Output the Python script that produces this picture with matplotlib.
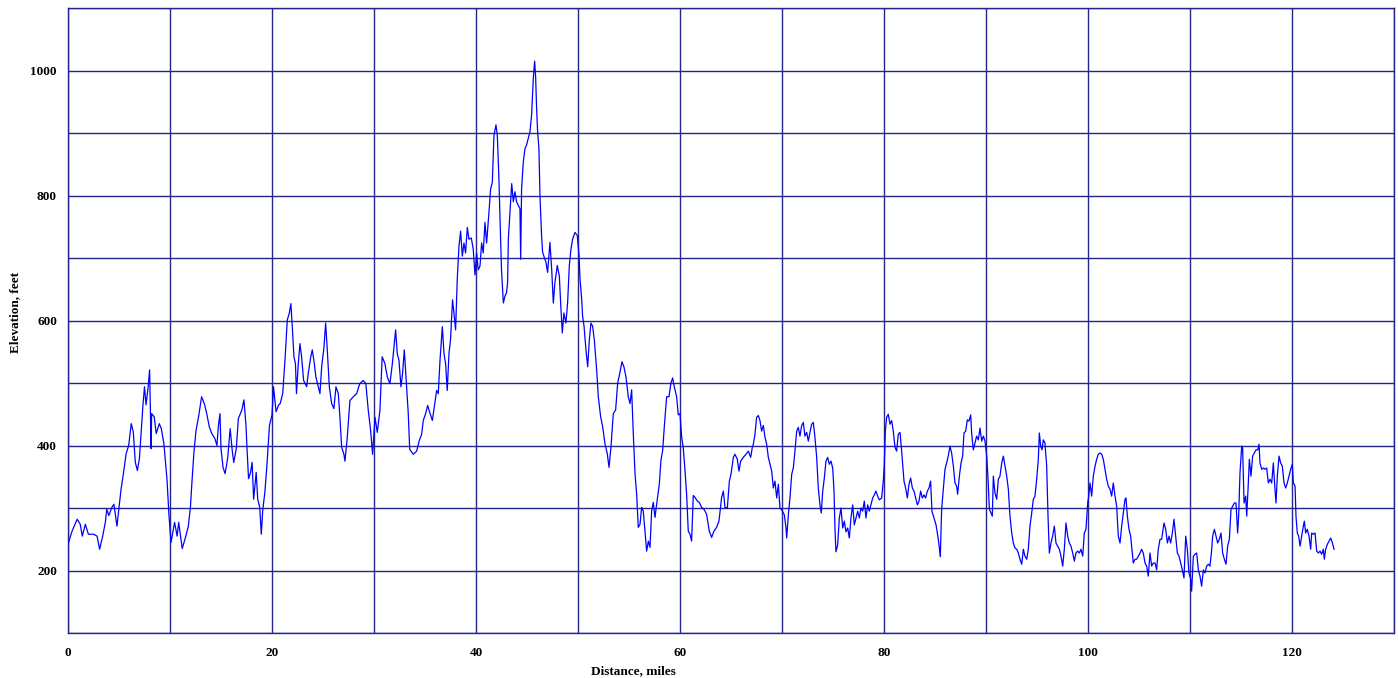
import matplotlib
matplotlib.use("Agg")
import matplotlib.pyplot as plt
from matplotlib.ticker import MultipleLocator

# distance (miles) and elevation (feet), read from the profile
miles = [
    0.0, 0.4, 0.9, 1.2, 1.4, 1.7, 2.0, 2.5, 2.85, 3.1, 3.4, 3.66, 3.8, 4.0, 4.3, 4.5, 4.8, 5.0,
    5.2, 5.45, 5.7, 5.95, 6.2, 6.4, 6.6, 6.8, 7.0, 7.2, 7.35, 7.5, 7.65, 7.85, 8.0, 8.15, 8.2,
    8.45, 8.65, 8.95, 9.15, 9.4, 9.7, 9.9, 10.1, 10.45, 10.7, 10.85, 11.2, 11.55, 11.8, 12.0,
    12.15, 12.35, 12.55, 12.8, 13.1, 13.4, 13.6, 13.85, 14.1, 14.4, 14.6, 14.75, 14.9, 15.0,
    15.2, 15.4, 15.65, 15.9, 16.1, 16.25, 16.5, 16.7, 17.05, 17.25, 17.45, 17.55, 17.7, 17.9,
    18.05, 18.2, 18.45, 18.6, 18.8, 18.95, 19.1, 19.3, 19.5, 19.75, 20.0, 20.15, 20.4, 20.65,
    20.8, 21.05, 21.27, 21.5, 21.7, 21.85, 21.99, 22.15, 22.3, 22.4, 22.58, 22.74, 22.9, 23.1,
    23.4, 23.55, 23.8, 23.95, 24.15, 24.3, 24.54, 24.7, 24.87, 25.1, 25.26, 25.42, 25.62, 25.85,
    26.07, 26.27, 26.5, 26.66, 26.83, 27.05, 27.15, 27.38, 27.64, 27.97, 28.3, 28.6, 28.95,
    29.2, 29.44, 29.67, 29.86, 30.1, 30.32, 30.58, 30.8, 31.07, 31.3, 31.56, 31.8, 31.96, 32.12,
    32.28, 32.45, 32.64, 32.8, 32.97, 33.2, 33.36, 33.5, 33.85, 34.18, 34.44, 34.67, 34.83,
    35.06, 35.26, 35.5, 35.72, 35.91, 36.14, 36.3, 36.47, 36.7, 36.86, 37.02, 37.18, 37.35,
    37.5, 37.7, 37.84, 38.0, 38.16, 38.33, 38.49, 38.66, 38.82, 38.98, 39.15, 39.31, 39.54,
    39.73, 39.9, 40.06, 40.22, 40.39, 40.55, 40.71, 40.88, 41.04, 41.27, 41.43, 41.6, 41.76,
    41.96, 42.09, 42.25, 42.35, 42.5, 42.68, 42.84, 43.0, 43.1, 43.17, 43.33, 43.5, 43.66,
    43.82, 43.98, 44.15, 44.31, 44.38, 44.47, 44.64, 44.8, 44.96, 45.13, 45.29, 45.45, 45.62,
    45.75, 45.85, 45.94, 46.04, 46.17, 46.27, 46.43, 46.53, 46.7, 46.86, 47.02, 47.25, 47.42,
    47.58, 47.74, 47.97, 48.17, 48.3, 48.46, 48.62, 48.82, 48.98, 49.15, 49.31, 49.47, 49.7,
    49.93, 50.1, 50.2, 50.36, 50.45, 50.59, 50.78, 50.95, 51.11, 51.27, 51.43, 51.6, 51.83,
    51.99, 52.22, 52.42, 52.64, 52.87, 53.04, 53.23, 53.46, 53.69, 53.89, 54.1, 54.31, 54.5,
    54.7, 54.93, 55.1, 55.26, 55.42, 55.59, 55.75, 55.91, 56.08, 56.24, 56.4, 56.57, 56.73,
    56.9, 57.06, 57.22, 57.38, 57.55, 57.71, 57.97, 58.13, 58.3, 58.46, 58.69, 58.92, 59.11,
    59.28, 59.44, 59.67, 59.83, 60.0, 60.16, 60.32, 60.49, 60.65, 60.81, 60.98, 61.14, 61.3,
    61.47, 61.7, 61.89, 62.12, 62.35, 62.61, 62.87, 63.1, 63.33, 63.59, 63.82, 64.08, 64.25,
    64.41, 64.64, 64.84, 65.0, 65.23, 65.39, 65.62, 65.78, 65.95, 66.2, 66.47, 66.7, 66.93,
    67.09, 67.19, 67.35, 67.51, 67.68, 67.84, 68.0, 68.17, 68.33, 68.5, 68.66, 68.82, 68.99,
    69.15, 69.31, 69.48, 69.64, 69.8, 69.97, 70.23, 70.39, 70.46, 70.62, 70.78, 70.95, 71.11,
    71.27, 71.44, 71.6, 71.76, 71.93, 72.09, 72.25, 72.42, 72.58, 72.74, 72.91, 73.07, 73.23,
    73.4, 73.56, 73.72, 73.85, 73.99, 74.15, 74.31, 74.48, 74.64, 74.8, 74.97, 75.1, 75.19,
    75.29, 75.46, 75.62, 75.78, 75.95, 76.11, 76.27, 76.44, 76.6, 76.76, 76.93, 77.09, 77.25,
    77.42, 77.58, 77.74, 77.91, 78.07, 78.23, 78.4, 78.56, 78.72, 78.89, 79.05, 79.21, 79.38,
    79.54, 79.77, 79.93, 80.03, 80.13, 80.26, 80.42, 80.59, 80.75, 80.91, 81.08, 81.24, 81.4,
    81.57, 81.73, 81.83, 81.96, 82.12, 82.29, 82.45, 82.61, 82.78, 82.94, 83.1, 83.27, 83.43,
    83.59, 83.76, 83.92, 84.08, 84.25, 84.41, 84.57, 84.7, 84.9, 85.1, 85.26, 85.39, 85.52,
    85.65, 85.82, 85.98, 86.14, 86.3, 86.47, 86.63, 86.8, 86.96, 87.12, 87.22, 87.39, 87.55,
    87.71, 87.84, 88.01, 88.17, 88.33, 88.5, 88.59, 88.76, 88.92, 89.08, 89.25, 89.41, 89.58,
    89.74, 89.9, 90.07, 90.2, 90.33, 90.49, 90.62, 90.72, 90.88, 91.05, 91.21, 91.37, 91.54,
    91.7, 91.86, 92.03, 92.19, 92.35, 92.52, 92.68, 92.84, 93.01, 93.17, 93.33, 93.5, 93.66,
    93.82, 93.99, 94.15, 94.31, 94.48, 94.64, 94.8, 94.97, 95.13, 95.23, 95.36, 95.49, 95.62,
    95.78, 95.95, 96.08, 96.21, 96.37, 96.53, 96.7, 96.86, 97.03, 97.19, 97.35, 97.52, 97.68,
    97.84, 98.01, 98.17, 98.33, 98.5, 98.66, 98.82, 98.99, 99.15, 99.31, 99.48, 99.64, 99.8,
    99.97, 100.07, 100.2, 100.36, 100.52, 100.69, 100.85, 101.01, 101.18, 101.34, 101.5,
    101.67, 101.83, 101.99, 102.16, 102.32, 102.48, 102.65, 102.81, 102.97, 103.14, 103.3,
    103.46, 103.63, 103.72, 103.86, 104.02, 104.18, 104.31, 104.44, 104.61, 104.77, 104.93,
    105.1, 105.26, 105.42, 105.59, 105.75, 105.91, 106.08, 106.24, 106.4, 106.57, 106.73,
    106.89, 107.06, 107.22, 107.45, 107.62, 107.78, 107.94, 108.1, 108.27, 108.43, 108.6,
    108.76, 108.92, 109.09, 109.25, 109.41, 109.58, 109.74, 109.9, 110.07, 110.16, 110.33,
    110.49, 110.65, 110.82, 110.98, 111.14, 111.31, 111.47, 111.63, 111.8, 111.96, 112.13,
    112.22, 112.39, 112.55, 112.71, 112.88, 113.04, 113.2, 113.37, 113.53, 113.69, 113.86,
    114.02, 114.18, 114.35, 114.51, 114.67, 114.77, 114.9, 115.07, 115.16, 115.3, 115.46,
    115.56, 115.69, 115.82, 115.98, 116.14, 116.31, 116.47, 116.64, 116.77, 116.86, 117.03,
    117.19, 117.35, 117.52, 117.68, 117.84, 118.01, 118.17, 118.33, 118.43, 118.56, 118.73,
    118.89, 119.05, 119.22, 119.38, 119.54, 119.71, 119.87, 120.03, 120.13, 120.3, 120.39,
    120.52, 120.65, 120.79, 120.95, 121.11, 121.21, 121.34, 121.5, 121.67, 121.83, 121.93,
    122.09, 122.26, 122.42, 122.58, 122.75, 122.91, 123.07, 123.17, 123.3, 123.47, 123.63,
    123.79, 123.96, 124.12,
]

elevation = [
    242, 263, 282, 274, 255, 274, 258, 258, 255, 234, 255, 277, 298, 288, 301, 306, 271, 301,
    330, 357, 387, 400, 435, 422, 373, 360, 379, 427, 465, 494, 465, 492, 521, 395, 451,
    446, 419, 435, 427, 403, 347, 288, 245, 277, 255, 277, 235, 255, 271, 301,
    341, 390, 424, 446, 478, 465, 451, 430, 419, 411, 400, 432, 451, 395,
    365, 355, 379, 427, 392, 373, 395, 443, 457, 473, 432, 395, 347, 357,
    373, 314, 357, 314, 301, 258, 298, 325, 368, 432, 449, 494, 454, 465,
    467, 483, 536, 601, 612, 627, 590, 542, 531, 483, 531, 563, 542, 504,
    494, 515, 542, 553, 531, 510, 494, 483, 526, 558, 596, 553, 494, 467,
    459, 494, 483, 445, 397, 386, 375, 413, 472, 478, 483, 499, 504,
    499, 456, 424, 386, 445, 421, 456, 542, 531, 510, 499, 531, 558, 585,
    547, 536, 494, 515, 553, 494, 451, 394, 386, 391, 408, 418, 440,
    451, 464, 451, 440, 462, 488, 483, 536, 590, 547, 531, 488, 547,
    569, 633, 612, 585, 665, 719, 743, 703, 724, 708, 749, 730, 732,
    714, 673, 708, 681, 687, 724, 708, 757, 724, 773, 810, 821, 896,
    913, 896, 826, 765, 682, 628, 639, 645, 661, 730, 773, 819, 790,
    806, 790, 784, 779, 698, 811, 854, 875, 881, 892, 902, 929, 988,
    1015, 988, 940, 902, 875, 800, 736, 709, 701, 693, 677, 725, 682,
    628, 661, 688, 671, 628, 580, 612, 596, 628, 688, 714, 730, 741,
    736, 704, 666, 634, 607, 591, 553, 526, 569, 596, 591, 569, 521,
    478, 446, 430, 403, 387, 365, 397, 451, 457, 500, 516, 534, 526,
    510, 478, 467, 489, 419, 355, 322, 269, 274, 301, 295, 263, 231,
    247, 237, 295, 309, 285, 306, 338, 376, 392, 430, 478, 478, 500,
    508, 494, 478, 449, 451, 414, 397, 360, 322, 263, 258, 247, 320,
    317, 311, 309, 301, 298, 290, 263, 253, 263, 269, 279, 317, 327,
    301, 300, 343, 354, 381, 386, 378, 359, 375, 381, 386, 391, 381,
    397, 402, 418, 445, 448, 440, 423, 432, 413, 402, 381, 370, 359,
    332, 343, 316, 338, 300, 297, 289, 268, 252, 289, 316, 354, 364,
    391, 423, 429, 415, 432, 437, 415, 421, 407, 421, 434, 437, 413,
    381, 332, 305, 292, 327, 348, 375, 381, 370, 375, 364, 327, 268,
    230, 241, 284, 300, 268, 279, 262, 268, 252, 284, 305, 273, 284,
    295, 284, 300, 295, 311, 284, 305, 295, 305, 316, 321, 327, 319,
    313, 316, 343, 370, 423, 445, 450, 434, 440, 423, 397, 391, 418,
    421, 391, 370, 343, 332, 316, 338, 348, 332, 327, 316, 305, 311,
    327, 316, 321, 316, 327, 332, 343, 295, 284, 273, 257, 241, 222,
    298, 330, 362, 372, 383, 399, 388, 367, 340, 335, 322, 351, 372,
    383, 420, 423, 441, 439, 449, 420, 393, 404, 415, 409, 428, 407,
    415, 407, 383, 346, 298, 292, 287, 351, 324, 314, 346, 351, 372,
    383, 367, 351, 330, 287, 260, 244, 236, 234, 228, 218, 210, 234,
    223, 218, 234, 271, 292, 314, 319, 346, 378, 420, 399, 393, 409,
    404, 367, 287, 228, 244, 255, 271, 244, 239, 234, 223, 207, 234,
    276, 255, 244, 239, 228, 215, 228, 231, 228, 234, 223, 260, 266,
    308, 319, 340, 319, 351, 367, 378, 386, 388, 386, 378,
    362, 346, 335, 330, 319, 340, 319, 303, 255, 244, 271,
    292, 314, 316, 287, 266, 255, 234, 212, 218, 218, 223,
    228, 234, 228, 212, 207, 191, 228, 207, 212, 212, 201,
    234, 250, 250, 276, 266, 244, 255, 244, 260, 282, 255,
    228, 223, 212, 201, 188, 255, 234, 196, 186, 167, 223,
    226, 228, 201, 191, 175, 201, 196, 207, 210, 207, 234,
    255, 266, 255, 244, 250, 260, 228, 218, 210, 239, 250,
    298, 303, 308, 308, 260, 287, 356, 399, 396, 308, 319,
    287, 330, 378, 351, 383, 388, 393, 393, 402, 372, 362,
    364, 362, 364, 340, 346, 340, 372, 330, 308, 351, 383,
    372, 367, 340, 332, 340, 351, 362, 370, 340, 335, 287,
    260, 255, 239, 255, 271, 279, 260, 266, 255, 234, 260,
    258, 260, 231, 228, 231, 226, 234, 218, 234, 242, 247,
    252, 244, 234,
]

x_ticks = [0, 20, 40, 60, 80, 100, 120]
y_ticks = [200, 400, 600, 800, 1000]

grid_color = "#24248c"
label_font = {"family": ["Liberation Serif", "DejaVu Serif"], "weight": "bold", "size": 9.5}

fig = plt.figure(figsize=(13.98, 6.78), dpi=100)
ax = fig.add_axes([68 / 1398, 45 / 678, 1326 / 1398, 625 / 678])

ax.plot(miles, elevation, color="#0000ff", linewidth=0.9, zorder=3)

ax.set_xlim(0, 130)
ax.set_ylim(100, 1100)
ax.set_xticks(x_ticks)
ax.set_yticks(y_ticks)
ax.xaxis.set_minor_locator(MultipleLocator(10))
ax.yaxis.set_minor_locator(MultipleLocator(100))
ax.grid(True, which="both", color=grid_color, linewidth=1.0)
ax.set_axisbelow(True)
ax.tick_params(which="both", length=0)
ax.tick_params(axis="x", pad=10)
ax.tick_params(axis="y", pad=8)
for lbl in ax.get_xticklabels() + ax.get_yticklabels():
    lbl.set_fontfamily(label_font["family"])
    lbl.set_fontweight("bold")
    lbl.set_fontsize(label_font["size"])
for s in ax.spines.values():
    s.set_color(grid_color)
    s.set_linewidth(1.0)

fig.text(633 / 1398, 1 - 665 / 678, "Distance, miles", ha="center", va="top", **label_font)
fig.text(15 / 1398, 1 - 312 / 678, "Elevation, feet", ha="center", va="center",
         rotation=90, **label_font)

fig.savefig("out.png", dpi=100, facecolor="white")
